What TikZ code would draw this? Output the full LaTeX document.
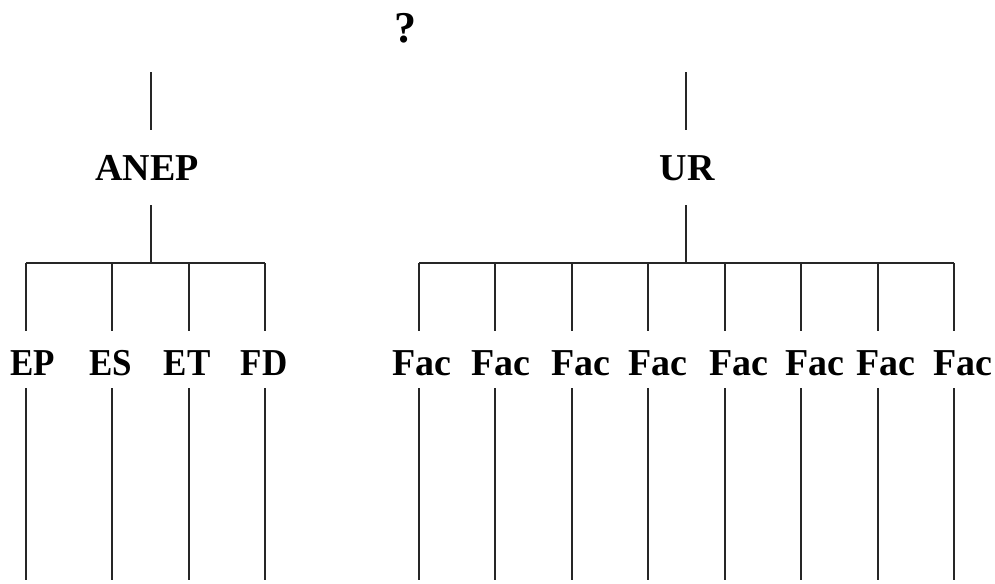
\documentclass[tikz,border=0pt]{standalone}
\usepackage{fontspec}
\setmainfont{Liberation Serif}
\begin{document}
\begin{tikzpicture}[x=0.75pt,y=-0.75pt,
  lbl/.style={font=\fontsize{28.5}{30}\selectfont\bfseries, inner sep=0pt, anchor=base},
  nar/.style={lbl, xscale=0.92},
  ln/.style={line width=1.2pt, black!85}]
\useasboundingbox (0,0) rectangle (995,583);
% title
\node[lbl, font=\fontsize{33}{35}\selectfont\bfseries] (q) at (405,42) {?};
% parents
\node[lbl] (anep) at (147,180) {ANEP};
\node[lbl] (ur) at (687,180) {UR};
% left children
\node[nar] (ep) at (33,375) {EP};
\node[nar] (es) at (111,375) {ES};
\node[nar] (et) at (187,375) {ET};
\node[nar] (fd) at (264,375) {FD};
% right children
\node[lbl] (f1) at (422,375) {Fac};
\node[lbl] (f2) at (501,375) {Fac};
\node[lbl] (f3) at (581,375) {Fac};
\node[lbl] (f4) at (658,375) {Fac};
\node[lbl] (f5) at (739,375) {Fac};
\node[lbl] (f6) at (815,375) {Fac};
\node[lbl] (f7) at (886,375) {Fac};
\node[lbl] (f8) at (963,375) {Fac};
% coordinates
\coordinate (at) at (151,72);  \coordinate (ab) at (151,130);
\coordinate (a1) at (151,205); \coordinate (a2) at (151,263);
\coordinate (ut) at (686,72);  \coordinate (ub) at (686,130);
\coordinate (u1) at (686,205); \coordinate (u2) at (686,263);
\draw[ln] (at) -- (ab);
\draw[ln] (a1) -- (a2);
\draw[ln] (ut) -- (ub);
\draw[ln] (u1) -- (u2);
% left bar and drops
\draw[ln] (26,263) -- (265,263);
\foreach \x/\n in {26/ep,112/es,189/et,265/fd}{
  \coordinate (\n-a) at (\x,263); \coordinate (\n-b) at (\x,331);
  \coordinate (\n-c) at (\x,388); \coordinate (\n-d) at (\x,580);
  \draw[ln] (\n-a) -- (\n-b);
  \draw[ln] (\n-c) -- (\n-d);
}
% right bar and drops
\draw[ln] (419,263) -- (954,263);
\foreach \x/\n in {419/f1,495/f2,572/f3,648/f4,725/f5,801/f6,878/f7,954/f8}{
  \coordinate (\n-a) at (\x,263); \coordinate (\n-b) at (\x,331);
  \coordinate (\n-c) at (\x,388); \coordinate (\n-d) at (\x,580);
  \draw[ln] (\n-a) -- (\n-b);
  \draw[ln] (\n-c) -- (\n-d);
}
\end{tikzpicture}
\end{document}
